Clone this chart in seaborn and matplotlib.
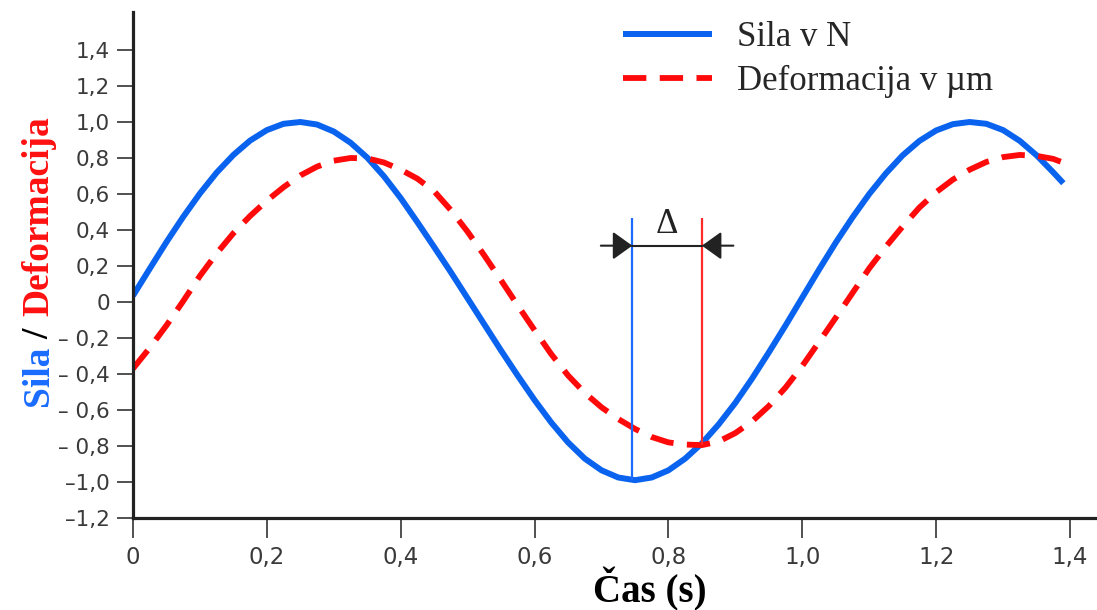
import numpy as np
import pandas as pd
import matplotlib
matplotlib.use("Agg")
import matplotlib.pyplot as plt
import seaborn as sns

# ---- data ----
time_s = [0.0, 0.025, 0.05, 0.075, 0.1, 0.125, 0.15, 0.175, 0.2, 0.225,
          0.25, 0.275, 0.3, 0.325, 0.35, 0.375, 0.4, 0.425, 0.45, 0.475,
          0.5, 0.525, 0.55, 0.575, 0.6, 0.625, 0.65, 0.675, 0.7, 0.725,
          0.75, 0.775, 0.8, 0.825, 0.85, 0.875, 0.9, 0.925, 0.95, 0.975,
          1.0, 1.025, 1.05, 1.075, 1.1, 1.125, 1.15, 1.175, 1.2, 1.225,
          1.25, 1.275, 1.3, 1.325, 1.35, 1.375, 1.39]
sila = [0.035, 0.185, 0.333, 0.473, 0.603, 0.719, 0.817, 0.897, 0.955, 0.990,
        1.000, 0.986, 0.947, 0.885, 0.802, 0.698, 0.577, 0.443, 0.305, 0.165,
        0.020, -0.125, -0.270, -0.410, -0.545, -0.670, -0.780, -0.870, -0.935, -0.975,
        -0.990, -0.975, -0.935, -0.870, -0.785, -0.680, -0.560, -0.425, -0.280, -0.130,
        0.025, 0.180, 0.330, 0.470, 0.600, 0.715, 0.815, 0.895, 0.953, 0.988,
        1.000, 0.990, 0.955, 0.895, 0.815, 0.720, 0.660]
deformacija = [-0.370, -0.255, -0.130, 0.005, 0.145, 0.270, 0.382, 0.478, 0.563, 0.638,
               0.703, 0.752, 0.785, 0.800, 0.798, 0.775, 0.735, 0.685, 0.615, 0.510,
               0.390, 0.258, 0.120, -0.020, -0.157, -0.290, -0.408, -0.505, -0.585, -0.650,
               -0.705, -0.750, -0.780, -0.792, -0.795, -0.775, -0.728, -0.663, -0.578, -0.475,
               -0.355, -0.222, -0.087, 0.050, 0.187, 0.308, 0.420, 0.525, 0.610, 0.680,
               0.735, 0.778, 0.805, 0.817, 0.812, 0.795, 0.774]
series_labels = ["Sila v N", "Deformacija v \u00b5m"]
x_ticks = [0.0, 0.2, 0.4, 0.6, 0.8, 1.0, 1.2, 1.4]
x_tick_labels = ["0", "0,2", "0,4", "0,6", "0,8", "1,0", "1,2", "1,4"]
y_ticks = [-1.2, -1.0, -0.8, -0.6, -0.4, -0.2, 0.0, 0.2, 0.4, 0.6, 0.8, 1.0, 1.2, 1.4]
y_tick_labels = ["\u20131,2", "\u20131,0", "\u2013 0,8", "\u2013 0,6", "\u2013 0,4", "\u2013 0,2",
                 "0", "0,2", "0,4", "0,6", "0,8", "1,0", "1,2", "1,4"]
x_label = "\u010cas (s)"
y_label_parts = ["Sila", "/", "Deformacija"]
delta_label = "\u0394"

BLUE = "#0a63ee"
RED = "#ff0a0a"
DARK = "#222222"

sns.set_theme(style="white")
plt.rcParams["font.family"] = ["DejaVu Sans"]

W, H = 1097, 610
fig = plt.figure(figsize=(W / 100, H / 100), dpi=100)
ax = fig.add_axes([133 / W, (H - 518) / H, (W - 133) / W, (518 - 12) / H])

df = pd.DataFrame({"t": time_s, "sila": sila, "deformacija": deformacija})
sns.lineplot(data=df, x="t", y="sila", ax=ax, color=BLUE, linewidth=4.3,
             sort=False, estimator=None, legend=False)
sns.lineplot(data=df, x="t", y="deformacija", ax=ax, color=RED, linewidth=4.2,
             sort=False, estimator=None, legend=False)
l_sila, l_def = ax.lines[0], ax.lines[1]
l_sila.set_solid_capstyle("butt")
l_sila.set_solid_joinstyle("round")
l_def.set_dashes([4.0, 2.3])
l_def.set_dash_capstyle("butt")
l_def.set_dash_joinstyle("round")

ax.set_xlim(0, (W - 133) / 669.3)
ax.set_ylim(-1.2, (302 - 12) / 180)

# phase shift markers derived from data minima
t_arr = np.array(time_s)
tb = t_arr[int(np.argmin(sila))] - 0.004
tr = t_arr[int(np.argmin(deformacija))]
yb = min(sila)
yr = min(deformacija)
y_top = 0.467
y_arrow = 0.313
ax.plot([tb, tb], [yb, y_top], color="#1a6cff", lw=1.6, solid_capstyle="butt")
ax.plot([tr, tr], [yr, y_top], color="#ff2a2a", lw=1.6, solid_capstyle="butt")
ax.plot([tb, tr], [y_arrow, y_arrow], color=DARK, lw=1.5)
astyle = "-|>,head_length=0.6,head_width=0.43"
ax.annotate("", xy=(tb, y_arrow), xytext=(tb - 0.047, y_arrow),
            arrowprops=dict(arrowstyle=astyle, color=DARK, lw=1.5,
                            mutation_scale=20, shrinkA=0, shrinkB=0))
ax.annotate("", xy=(tr, y_arrow), xytext=(tr + 0.047, y_arrow),
            arrowprops=dict(arrowstyle=astyle, color=DARK, lw=1.5,
                            mutation_scale=20, shrinkA=0, shrinkB=0))
ax.text((tb + tr) / 2, 0.385, delta_label, ha="center", va="baseline",
        fontsize=25, family="Liberation Serif", color=DARK)

# axes styling
for s in ["top", "right"]:
    ax.spines[s].set_visible(False)
for s in ["left", "bottom"]:
    ax.spines[s].set_color(DARK)
    ax.spines[s].set_linewidth(2.3)
ax.set_xticks(x_ticks)
ax.set_xticklabels(x_tick_labels)
ax.set_yticks(y_ticks)
ax.set_yticklabels(y_tick_labels)
ax.tick_params(axis="y", direction="out", length=11.5, width=1.1, color=DARK,
               pad=5, labelsize=15.5, labelcolor="#3a3a3a", left=True)
ax.tick_params(axis="x", direction="out", length=14.4, width=1.1, color=DARK,
               pad=5.5, labelsize=16.5, labelcolor="#3a3a3a", bottom=True)
ax.set_xlabel("")
ax.set_ylabel("")
ax.grid(False)

# legend
leg = ax.legend([l_sila, l_def], series_labels, loc="upper left",
                bbox_to_anchor=(623 / W, 1 - 21 / H), bbox_transform=fig.transFigure,
                frameon=False, borderpad=0, borderaxespad=0, handlelength=2.55,
                handletextpad=0.74, labelspacing=0.32,
                prop={"family": "Liberation Serif", "size": 25})

# x label
fig.text(650 / W, (H - 602) / H, x_label, ha="center", va="baseline",
         fontsize=28, fontweight="bold", family="Liberation Serif", color="black")

# multi-coloured rotated y label
fig.canvas.draw()
rend = fig.canvas.get_renderer()
ykw = dict(fontsize=27, fontweight="bold", family="Liberation Serif", rotation=90,
           rotation_mode="anchor", ha="left", va="baseline")


def length_px(s):
    t = fig.text(0, 0, s, **ykw)
    h = t.get_window_extent(rend).height
    t.remove()
    return h


full = " ".join(y_label_parts)
x_base = 48 / W
y0 = H - 406
offsets = [0.0,
           length_px(y_label_parts[0] + " " + y_label_parts[1]) - length_px(y_label_parts[1]) - 3,
           length_px(full) - length_px(y_label_parts[2]) + 1]
colors = ["#1a6cff", "black", "#ff1010"]
for part, off, c in zip(y_label_parts, offsets, colors):
    fig.text(x_base, (y0 + off) / H, part, color=c, **ykw)

fig.savefig("out.png", dpi=100)
